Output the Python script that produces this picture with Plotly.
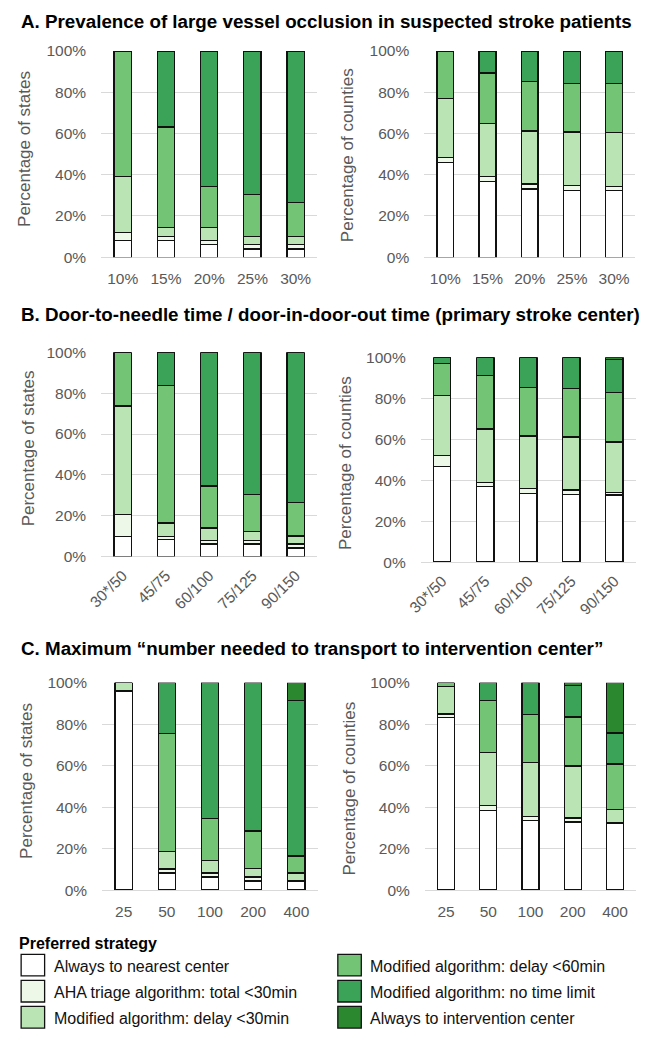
import plotly.graph_objects as go

W, H = 645, 1040

strategies = [
    "Always to nearest center",
    "AHA triage algorithm: total <30min",
    "Modified algorithm: delay <30min",
    "Modified algorithm: delay <60min",
    "Modified algorithm: no time limit",
    "Always to intervention center",
]
colors = ["#FFFFFF", "#EDF8E9", "#BAE4B3", "#74C476", "#3AA357", "#2B882F"]

cats_A = ["10%", "15%", "20%", "25%", "30%"]
cats_B = ["30*/50", "45/75", "60/100", "75/125", "90/150"]
cats_C = ["25", "50", "100", "200", "400"]

y_tickvals = [0, 20, 40, 60, 80, 100]
y_ticktext = ["0%", "20%", "40%", "60%", "80%", "100%"]

# segment sizes (%), one list per strategy, in stacking order
A_states = [
    [8, 8, 6, 4, 4],
    [4, 2, 2, 2, 2],
    [27, 4.3, 6.3, 4, 4],
    [61, 48.8, 20, 20.4, 16.5],
    [0, 36.9, 65.7, 69.6, 73.5],
    [0, 0, 0, 0, 0],
]
A_counties = [
    [45.8, 36.6, 33.1, 32.4, 32.3],
    [2.4, 2.5, 2.4, 2.3, 2.0],
    [28.6, 25.8, 25.7, 26.0, 26.1],
    [23.2, 24.4, 23.9, 23.7, 24.0],
    [0, 10.7, 14.9, 15.6, 15.6],
    [0, 0, 0, 0, 0],
]
B_states = [
    [10, 8.3, 6.1, 6.1, 4.2],
    [10.5, 1.7, 1.9, 1.9, 1.9],
    [53.2, 6.4, 6.0, 4.2, 4.0],
    [26.3, 67.4, 20.5, 18.3, 16.4],
    [0, 16.2, 65.5, 69.5, 73.5],
    [0, 0, 0, 0, 0],
]
B_counties = [
    [46.7, 36.8, 33.4, 33.0, 32.8],
    [5.5, 2.2, 2.6, 2.2, 1.3],
    [29.2, 26.0, 25.6, 25.8, 24.5],
    [15.4, 26.0, 23.5, 23.8, 24.1],
    [3.2, 9.0, 14.9, 15.2, 16.1],
    [0, 0, 0, 0, 1.2],
]
C_states = [
    [96, 8.2, 6.3, 4.3, 4.3],
    [0, 1.9, 1.9, 2.0, 0],
    [4, 8.4, 6.0, 4.0, 3.9],
    [0, 57.0, 20.3, 18.2, 8.3],
    [0, 24.5, 65.5, 71.5, 75.1],
    [0, 0, 0, 0, 8.4],
]
C_counties = [
    [83.1, 38.4, 33.5, 32.8, 32.3],
    [1.9, 2.3, 1.9, 1.9, 0],
    [13.1, 25.8, 26.0, 25.1, 6.6],
    [1.9, 24.8, 23.4, 23.7, 21.9],
    [0, 8.7, 15.2, 15.1, 15.0],
    [0, 0, 0, 1.4, 24.2],
]

titles = [
    "A. Prevalence of large vessel occlusion in suspected stroke patients",
    "B. Door-to-needle time / door-in-door-out time (primary stroke center)",
    "C. Maximum \u201cnumber needed to transport to intervention center\u201d",
]

FONT = "Liberation Sans, Arial, sans-serif"
GRAY = "#595959"


def X(px):
    return px / W


def Y(py):
    return 1 - py / H


# panel geometry in pixels: (x0, x1, ytop, ybottom)
panels = [
    (A_states, cats_A, "Percentage of states", (89, 310, 42.7, 252.3), 0, (10.5, 142)),
    (A_counties, cats_A, "Percentage of counties", (419.3, 635, 42.7, 252.3), 0, (341, 149)),
    (B_states, cats_B, "Percentage of states", (89, 310, 349, 556.7), -45, (15, 447)),
    (B_counties, cats_B, "Percentage of counties", (415.7, 635.7, 354, 562.3), -45, (339, 462)),
    (C_states, cats_C, "Percentage of states", (90, 310.7, 685, 895.7), 0, (12, 785)),
    (C_counties, cats_C, "Percentage of counties", (420, 636, 685, 895.7), 0, (342, 793)),
]

fig = go.Figure()
layout = {}
annotations = []

for i, (data, cats, ytitle, (x0, x1, yt, yb), tangle, (tx, ty)) in enumerate(panels):
    n = i + 1
    xa = "x" if n == 1 else f"x{n}"
    ya = "y" if n == 1 else f"y{n}"
    for s, vals in enumerate(data):
        fig.add_trace(go.Bar(
            x=cats, y=vals, name=strategies[s], xaxis=xa, yaxis=ya,
            marker=dict(color=colors[s], line=dict(color="#111111", width=1.3)),
            showlegend=False, hoverinfo="x+y+name",
        ))
    layout[f"xaxis{'' if n == 1 else n}"] = dict(
        domain=[X(x0), X(x1)], anchor=ya, type="category",
        showgrid=False, zeroline=False, showline=False, ticks="",
        tickangle=tangle, ticklabelstandoff=10 if tangle == 0 else 6,
        tickfont=dict(family=FONT, size=15.5, color=GRAY),
    )
    layout[f"yaxis{'' if n == 1 else n}"] = dict(
        domain=[Y(yb), Y(yt)], anchor=xa, range=[0, 100],
        tickmode="array", tickvals=y_tickvals, ticktext=y_ticktext,
        showgrid=True, gridcolor="#D9D9D9", gridwidth=1,
        zeroline=True, zerolinecolor="#D9D9D9", zerolinewidth=1,
        showline=False, ticks="", ticklabelstandoff=14,
        tickfont=dict(family=FONT, size=15.5, color=GRAY),
    )
    annotations.append(dict(
        x=X(tx), y=Y(ty), xref="paper", yref="paper", text=ytitle,
        textangle=-90, showarrow=False, xanchor="center", yanchor="middle",
        font=dict(family=FONT, size=17, color=GRAY),
    ))

for t, py in zip(titles, [13, 311, 650]):
    annotations.append(dict(
        x=X(5.5), y=Y(py), xref="paper", yref="paper", text=f"<b>{t}</b>",
        showarrow=False, xanchor="left", yanchor="middle",
        font=dict(family=FONT, size=18.8, color="#000000"),
    ))

annotations.append(dict(
    x=X(3.5), y=Y(950), xref="paper", yref="paper", text="<b>Preferred strategy</b>",
    showarrow=False, xanchor="left", yanchor="middle",
    font=dict(family=FONT, size=16, color="#000000"),
))

# legend drawn as swatches + labels (two columns)
shapes = []
leg_cols = [(7.3, 38.5), (331, 361.5)]
leg_rows = [972, 998.5, 1025]
for s, name in enumerate(strategies):
    col, row = divmod(s, 3)
    sx, tx = leg_cols[col]
    cy = leg_rows[row]
    shapes.append(dict(
        type="rect", xref="paper", yref="paper",
        x0=X(sx), x1=X(sx + 24), y0=Y(cy + 11), y1=Y(cy - 11),
        fillcolor=colors[s], line=dict(color="#111111", width=1.3),
    ))
    annotations.append(dict(
        x=X(tx), y=Y(cy + 1), xref="paper", yref="paper", text=name,
        showarrow=False, xanchor="left", yanchor="middle",
        font=dict(family=FONT, size=16, color="#111111"),
    ))

fig.update_layout(
    margin=dict(l=0, r=0, t=0, b=0),
    paper_bgcolor="white", plot_bgcolor="white",
    barmode="stack", bargap=0.6, showlegend=False,
    annotations=annotations, shapes=shapes,
    **layout,
)

# the graph div is pinned to the page corner so the body margin does not
# offset or rescale the 645x1040 figure
fig.write_html(
    "out.html",
    config={"responsive": False, "displayModeBar": False},
    default_width=f"{W}px; position:absolute; left:0; top:0",
    default_height=f"{H}px",
)
